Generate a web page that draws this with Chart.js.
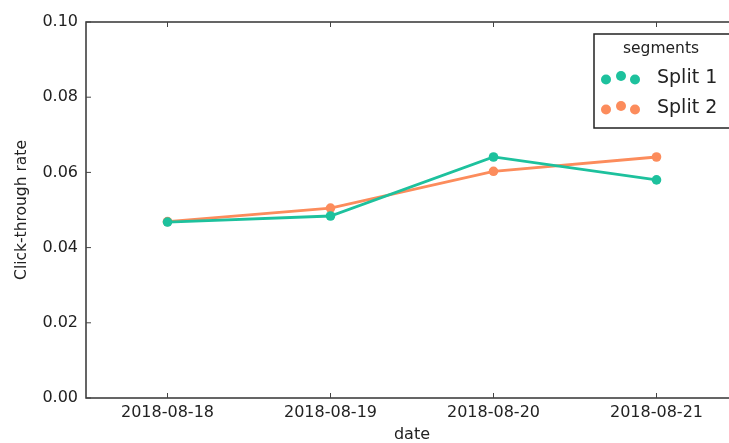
<!DOCTYPE html>
<html>
<head>
<meta charset="utf-8">
<script src="https://cdn.jsdelivr.net/npm/chart.js@4"></script>
<style>
  html, body { margin: 0; padding: 0; background: #fff; overflow: hidden; }
  #wrap { position: relative; width: 745px; height: 443px; }
</style>
</head>
<body>
<div id="wrap"><canvas id="ctrChart"></canvas></div>
<script>
var dates = ['2018-08-18', '2018-08-19', '2018-08-20', '2018-08-21'];
var split1 = [0.0468, 0.0484, 0.0641, 0.0580];
var split2 = [0.0469, 0.0505, 0.0603, 0.0641];
var seriesNames = ['Split 1', 'Split 2'];
var yTicks = [0, 0.02, 0.04, 0.06, 0.08, 0.10];

var teal = '#1dc19d';
var orange = '#fc8c5c';

// frame + inward ticks, like the old matplotlib style
var framePlugin = {
    id: 'frame',
    afterDatasetsDraw: function (chart) {
        var ctx = chart.ctx, a = chart.chartArea;
        var xs = chart.scales.x, ys = chart.scales.y;
        ctx.save();
        ctx.strokeStyle = '#333';
        ctx.lineWidth = 1.5;
        ctx.strokeRect(a.left, a.top, a.right - a.left, a.bottom - a.top);
        ctx.lineWidth = 1;
        ctx.strokeStyle = '#444';
        ctx.beginPath();
        xs.ticks.forEach(function (t, i) {
            var px = xs.getPixelForTick(i);
            ctx.moveTo(px, a.bottom); ctx.lineTo(px, a.bottom - 5);
            ctx.moveTo(px, a.top); ctx.lineTo(px, a.top + 5);
        });
        ys.ticks.forEach(function (t, i) {
            var py = ys.getPixelForTick(i);
            ctx.moveTo(a.left, py); ctx.lineTo(a.left + 5, py);
            ctx.moveTo(a.right, py); ctx.lineTo(a.right - 5, py);
        });
        ctx.stroke();
        ctx.restore();
    }
};

// boxed legend with a title and three scatter dots per entry
var legendPlugin = {
    id: 'boxLegend',
    afterDraw: function (chart) {
        var ctx = chart.ctx;
        var x0 = 594, y0 = 34, w = 145, h = 94;
        ctx.save();
        ctx.fillStyle = '#fff';
        ctx.fillRect(x0, y0, w, h);
        ctx.strokeStyle = '#222';
        ctx.lineWidth = 1.5;
        ctx.strokeRect(x0, y0, w, h);
        ctx.fillStyle = '#222';
        ctx.textBaseline = 'middle';
        ctx.textAlign = 'center';
        ctx.font = '15.5px "DejaVu Sans"';
        ctx.fillText('segments', 661, 49);
        ctx.textAlign = 'left';
        chart.data.datasets.forEach(function (ds, i) {
            var cy = 78 + i * 30;
            ctx.fillStyle = ds.borderColor;
            [[606, 1.5], [621, -2], [635, 1.5]].forEach(function (d) {
                ctx.beginPath();
                ctx.arc(d[0], cy + d[1], 5, 0, Math.PI * 2);
                ctx.fill();
            });
            ctx.fillStyle = '#222';
            ctx.font = '19px "DejaVu Sans"';
            ctx.fillText(ds.label, 657, cy);
        });
        ctx.restore();
    }
};

var ctx = document.getElementById('ctrChart').getContext('2d');
new Chart(ctx, {
    type: 'line',
    data: {
        labels: dates,
        datasets: [
            { label: seriesNames[0], data: split1, borderColor: teal, backgroundColor: teal,
              borderWidth: 2.8, pointRadius: 4.8, pointBorderWidth: 0, tension: 0 },
            { label: seriesNames[1], data: split2, borderColor: orange, backgroundColor: orange,
              borderWidth: 2.8, pointRadius: 4.8, pointBorderWidth: 0, tension: 0 }
        ]
    },
    options: {
        responsive: true,
        maintainAspectRatio: false,
        animation: false,
        layout: { padding: { top: 22, right: 7, left: 0, bottom: 0 } },
        plugins: { legend: { display: false }, tooltip: { enabled: false } },
        scales: {
            x: {
                offset: true,
                grid: { display: false, drawTicks: false },
                border: { display: false },
                ticks: { color: '#222', font: { family: 'DejaVu Sans', size: 16 }, padding: 5, maxRotation: 0 },
                title: { display: true, text: 'date', color: '#222', font: { family: 'DejaVu Sans', size: 16 }, padding: { top: 2, bottom: -1 } },
                afterFit: function (s) { s.height = 45; }
            },
            y: {
                min: 0, max: 0.1,
                afterBuildTicks: function (s) { s.ticks = yTicks.map(function (v) { return { value: v }; }); },
                grid: { display: false, drawTicks: false },
                border: { display: false },
                ticks: { color: '#222', font: { family: 'DejaVu Sans', size: 16 }, padding: 8,
                         callback: function (v) { return Number(v).toFixed(2); } },
                title: { display: true, text: 'Click-through rate', color: '#222', font: { family: 'DejaVu Sans', size: 15.5 }, padding: { top: 13, bottom: 0 } },
                afterFit: function (s) { s.width = 86; }
            }
        }
    },
    plugins: [framePlugin, legendPlugin]
});
</script>
</body>
</html>
